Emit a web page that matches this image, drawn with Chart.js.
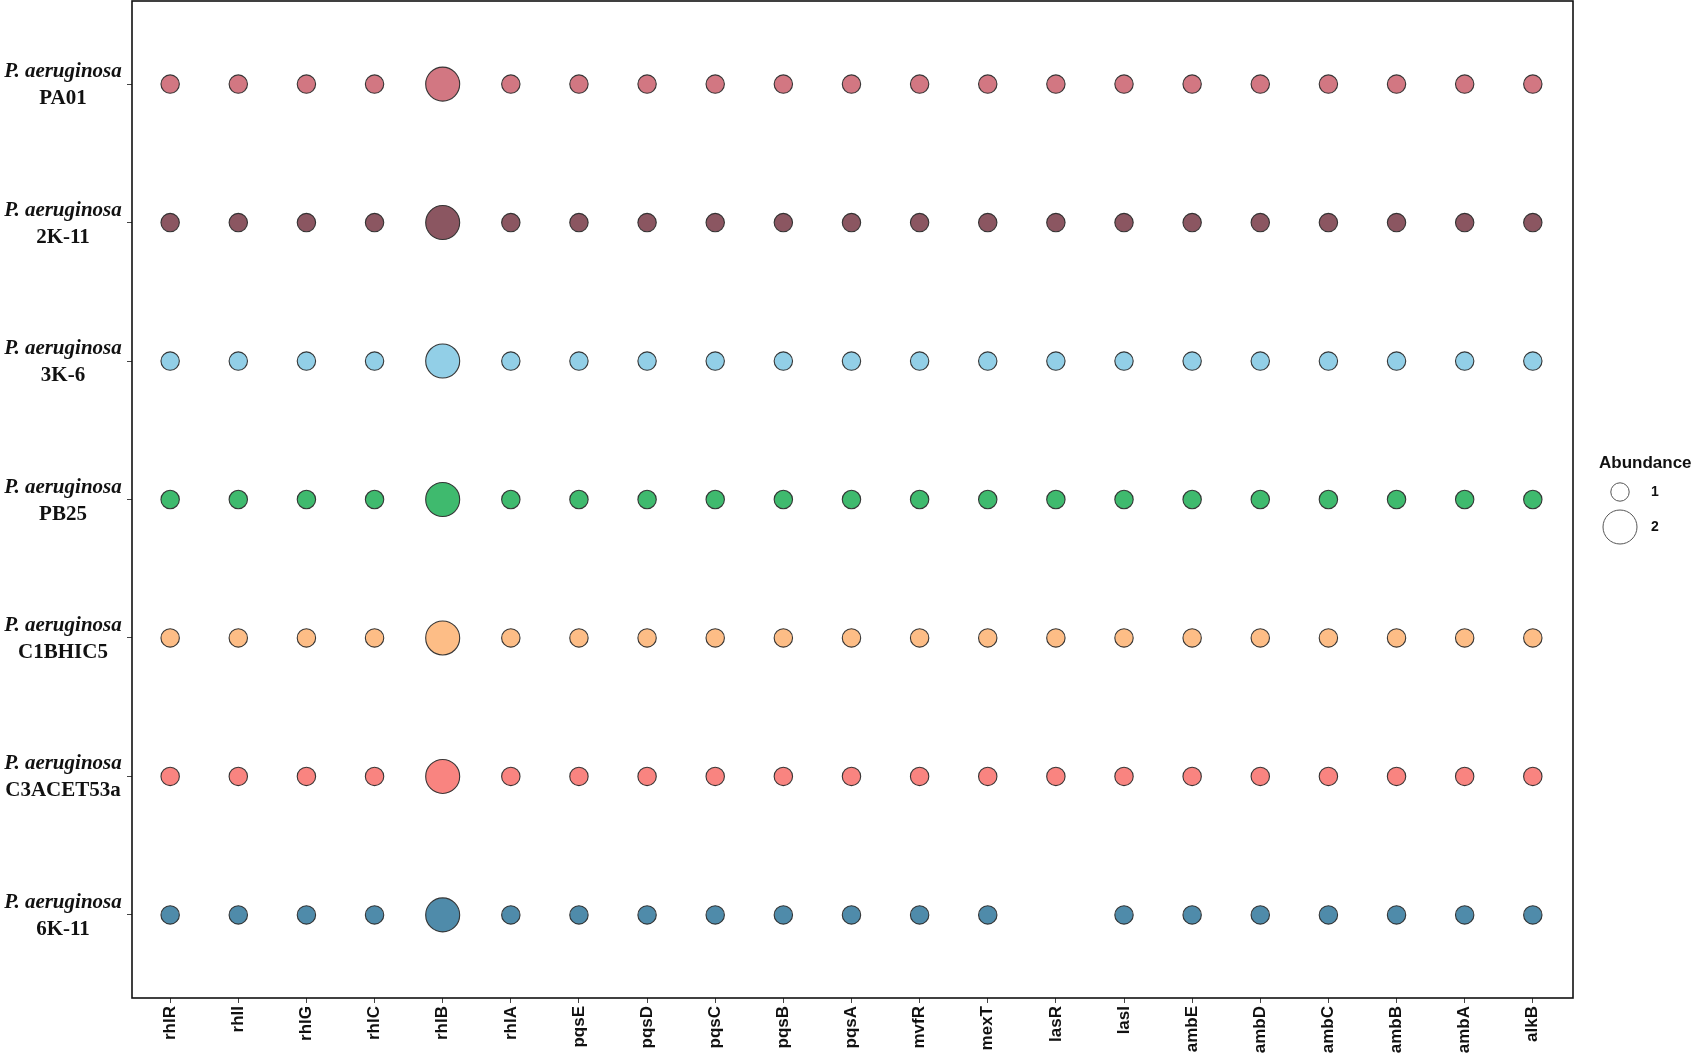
<!DOCTYPE html>
<html>
<head>
<meta charset="utf-8">
<script src="https://cdn.jsdelivr.net/npm/chart.js@4.4.1/dist/chart.umd.min.js"></script>
<style>
  html, body { margin: 0; padding: 0; background: #fff; }
  #wrap { width: 1701px; height: 1059px; position: relative; }
</style>
</head>
<body>
<div id="wrap"><canvas id="chart"></canvas></div>
<script>
// ── Datos ─────────────────────────────────────────────────────
const genes = ['rhlR','rhlI','rhlG','rhlC','rhlB','rhlA','pqsE','pqsD','pqsC','pqsB',
               'pqsA','mvfR','mexT','lasR','lasI','ambE','ambD','ambC','ambB','ambA','alkB'];

const cepas = ['PA01','2K-11','3K-6','PB25','C1BHIC5','C3ACET53a','6K-11'];

const colores = ['#D27782','#8B5661','#92CFE7','#3FBA6E','#FDBD86','#F98480','#4F8BAA'];

// abundancia por gen (mismo orden que genes)
const abPA01      = [1,1,1,1,2,1,1,1,1,1,1,1,1,1,1,1,1,1,1,1,1];
const ab2K11      = [1,1,1,1,2,1,1,1,1,1,1,1,1,1,1,1,1,1,1,1,1];
const ab3K6       = [1,1,1,1,2,1,1,1,1,1,1,1,1,1,1,1,1,1,1,1,1];
const abPB25      = [1,1,1,1,2,1,1,1,1,1,1,1,1,1,1,1,1,1,1,1,1];
const abC1BHIC5   = [1,1,1,1,2,1,1,1,1,1,1,1,1,1,1,1,1,1,1,1,1];
const abC3ACET53a = [1,1,1,1,2,1,1,1,1,1,1,1,1,1,1,1,1,1,1,1,1];
const ab6K11      = [1,1,1,1,2,1,1,1,1,1,1,1,1,null,1,1,1,1,1,1,1];

const abundancias = [abPA01, ab2K11, ab3K6, abPB25, abC1BHIC5, abC3ACET53a, ab6K11];

const legendaValores = [1, 2];

// ── Escala de tamaño (área proporcional) ──────────────────────
const R_MIN = 9.2, R_MAX = 17;
function radio(v) {
  const a0 = R_MIN * R_MIN, a1 = R_MAX * R_MAX;
  return Math.sqrt(a0 + (v - 1) * (a1 - a0));
}

const datasets = cepas.map((c, i) => ({
  label: c,
  data: abundancias[i]
    .map((v, j) => v == null ? null : { x: j, y: i, v })
    .filter(p => p),
  backgroundColor: colores[i],
  borderColor: 'rgba(45,45,45,0.95)',
  borderWidth: 1.1,
  radius: ctx => radio(ctx.raw.v),
  hoverRadius: 0
}));

// ── Plugin: etiquetas Y, marco y leyenda ──────────────────────
const extras = {
  id: 'extras',
  afterDatasetsDraw(chart) {
    const { ctx, chartArea: ca, scales } = chart;
    const y = scales.y;
    ctx.save();

    // marco del panel
    ctx.strokeStyle = '#111';
    ctx.lineWidth = 1.6;
    ctx.strokeRect(ca.left, ca.top, ca.right - ca.left, ca.bottom - ca.top);

    // etiquetas de cepas
    ctx.fillStyle = '#111';
    ctx.textAlign = 'center';
    ctx.textBaseline = 'alphabetic';
    const cx = (ca.left - 6) / 2;
    cepas.forEach((c, i) => {
      const py = y.getPixelForValue(i);
      ctx.font = 'italic bold 21px "Liberation Serif", "Times New Roman", serif';
      ctx.fillText('P. aeruginosa', cx, py - 7);
      ctx.font = 'bold 21px "Liberation Serif", "Times New Roman", serif';
      ctx.fillText(c, cx, py + 20);
    });

    // leyenda de tamaño
    const lx = ca.right + 26;
    ctx.textAlign = 'left';
    ctx.font = 'bold 17px "Liberation Sans", Arial, sans-serif';
    ctx.fillText('Abundance', lx, 468);
    const ccx = ca.right + 47;
    const cys = [492, 527];
    legendaValores.forEach((v, k) => {
      ctx.beginPath();
      ctx.arc(ccx, cys[k], radio(v), 0, Math.PI * 2);
      ctx.strokeStyle = '#555';
      ctx.lineWidth = 1;
      ctx.stroke();
      ctx.font = 'bold 14px "Liberation Sans", Arial, sans-serif';
      ctx.textBaseline = 'middle';
      ctx.fillText(String(v), ca.right + 78, cys[k]);
      ctx.textBaseline = 'alphabetic';
    });

    ctx.restore();
  }
};

// ── Gráfico ───────────────────────────────────────────────────
new Chart(document.getElementById('chart'), {
  type: 'bubble',
  data: { datasets },
  plugins: [extras],
  options: {
    responsive: true,
    maintainAspectRatio: false,
    animation: false,
    events: [],
    layout: { autoPadding: false, padding: { top: 1, right: 128, left: 0, bottom: 0 } },
    plugins: { legend: { display: false }, tooltip: { enabled: false } },
    scales: {
      x: {
        type: 'linear',
        min: -0.56, max: genes.length - 1 + 0.59,
        afterBuildTicks: s => { s.ticks = genes.map((g, i) => ({ value: i })); },
        afterFit: s => {
          s.height = 61;
          s.paddingLeft = 0; s.paddingRight = 0; s.paddingTop = 0; s.paddingBottom = 0;
        },
        border: { display: false },
        grid: { drawOnChartArea: false, drawTicks: true, tickLength: 5, color: '#444', lineWidth: 1 },
        ticks: {
          minRotation: 90, maxRotation: 90, autoSkip: false, padding: 3,
          color: '#111',
          font: { family: '"Liberation Sans", Arial, sans-serif', size: 17, weight: 'bold' },
          callback: v => genes[v]
        }
      },
      y: {
        type: 'linear',
        reverse: true,
        min: -0.6, max: cepas.length - 1 + 0.6,
        afterBuildTicks: s => { s.ticks = cepas.map((c, i) => ({ value: i })); },
        afterFit: s => {
          s.width = 132;
          s.paddingLeft = 0; s.paddingRight = 0; s.paddingTop = 0; s.paddingBottom = 0;
        },
        border: { display: false },
        grid: { drawOnChartArea: false, drawTicks: true, tickLength: 5, color: '#444', lineWidth: 1 },
        ticks: { display: false }
      }
    }
  }
});
</script>
</body>
</html>
